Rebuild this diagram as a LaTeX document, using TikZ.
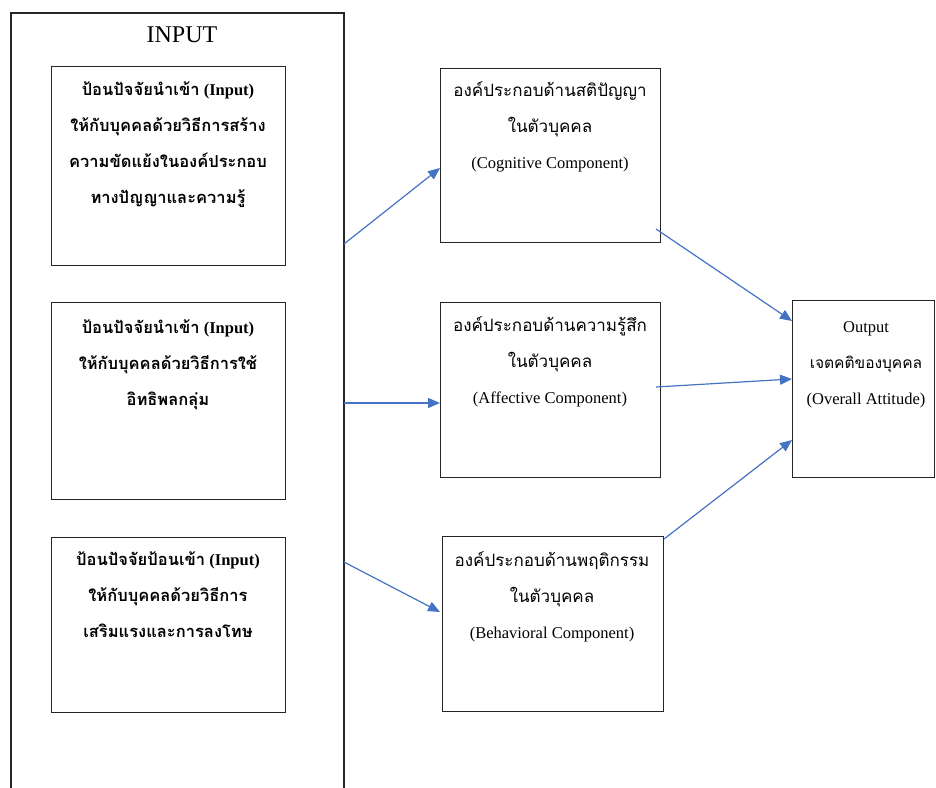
\documentclass[tikz,border=0pt]{standalone}
\usepackage{fontspec}
\setmainfont{Liberation Serif}
\newfontfamily\thai[Script=Thai]{Loma}
\usetikzlibrary{arrows.meta}
\definecolor{arrowblue}{RGB}{68,114,196}
\tikzset{
  box/.style={draw=black!85, line width=1.1pt, anchor=north west, inner sep=0pt},
  txt/.style={anchor=north, align=center, inner sep=0pt, font=\fontsize{16.5}{36}\selectfont},
  btxt/.style={txt, font=\fontsize{16.5}{36}\selectfont\bfseries},
  conn/.style={draw=arrowblue, line width=1.2pt, -{Triangle[length=12pt,width=10pt]}}
}
\begin{document}
\begin{tikzpicture}[x=1pt,y=-1pt]
\useasboundingbox (0,0) rectangle (936,787);
% big INPUT frame (open at bottom)
\draw[black!85, line width=1.1pt] (11,790) -- (11,13) -- (344,13) -- (344,790);
\node[anchor=center, inner sep=0pt, font=\fontsize{24}{26}\selectfont] (title) at (182,35) {INPUT};
% left boxes
\node[box, minimum width=234pt, minimum height=199pt] (in1) at (51,66) {};
\node[box, minimum width=234pt, minimum height=197pt] (in2) at (51,302) {};
\node[box, minimum width=234pt, minimum height=175pt] (in3) at (51,537) {};
\node[btxt] (t1) at (168,82) {{\thai\bfseries ป้อนปัจจัยนำเข้า} (Input)\\ {\thai\bfseries ให้กับบุคคลด้วยวิธีการสร้าง}\\ {\thai\bfseries ความขัดแย้งในองค์ประกอบ}\\ {\thai\bfseries ทางปัญญาและความรู้}};
\node[btxt] (t2) at (168,320) {{\thai\bfseries ป้อนปัจจัยนำเข้า} (Input)\\ {\thai\bfseries ให้กับบุคคลด้วยวิธีการใช้}\\ {\thai\bfseries อิทธิพลกลุ่ม}};
\node[btxt] (t3) at (168,551) {{\thai\bfseries ป้อนปัจจัยป้อนเข้า} (Input)\\ {\thai\bfseries ให้กับบุคคลด้วยวิธีการ}\\ {\thai\bfseries เสริมแรงและการลงโทษ}};
% middle boxes
\node[box, minimum width=220pt, minimum height=174pt] (cog) at (440,68) {};
\node[box, minimum width=220pt, minimum height=175pt] (aff) at (440,302) {};
\node[box, minimum width=221pt, minimum height=175pt] (beh) at (442,536) {};
\node[txt] (tc) at (550,81) {{\thai\fontsize{17}{36}\selectfont องค์ประกอบด้านสติปัญญา}\\ {\thai\fontsize{17}{36}\selectfont ในตัวบุคคล}\\ (Cognitive Component)};
\node[txt] (ta) at (550,316) {{\thai\fontsize{17}{36}\selectfont องค์ประกอบด้านความรู้สึก}\\ {\thai\fontsize{17}{36}\selectfont ในตัวบุคคล}\\ (Affective Component)};
\node[txt] (tb) at (552,551) {{\thai\fontsize{17}{36}\selectfont องค์ประกอบด้านพฤติกรรม}\\ {\thai\fontsize{17}{36}\selectfont ในตัวบุคคล}\\ (Behavioral Component)};
% output box
\node[box, minimum width=142pt, minimum height=177pt] (out) at (792,300) {};
\node[txt, font=\fontsize{16.5}{36}\selectfont] (to) at (866,321) {Output\\ {\thai\fontsize{15.5}{36}\selectfont เจตคติของบุคคล}\\ (Overall Attitude)};
% connector end points
\coordinate (s1) at (344,244);
\coordinate (s2) at (344,403);
\coordinate (s3) at (344,562);
\coordinate (e1) at (440,168);
\coordinate (e2) at (440,403);
\coordinate (e3) at (440,612);
\coordinate (c1) at (656,229);
\coordinate (c2) at (656,387);
\coordinate (c3) at (664,539);
\coordinate (o1) at (792,321);
\coordinate (o2) at (792,379);
\coordinate (o3) at (792,440);
\draw[conn] (s1) -- (e1);
\draw[conn] (s2) -- (e2);
\draw[conn] (s3) -- (e3);
\draw[conn] (c1) -- (o1);
\draw[conn] (c2) -- (o2);
\draw[conn] (c3) -- (o3);
\end{tikzpicture}
\end{document}
